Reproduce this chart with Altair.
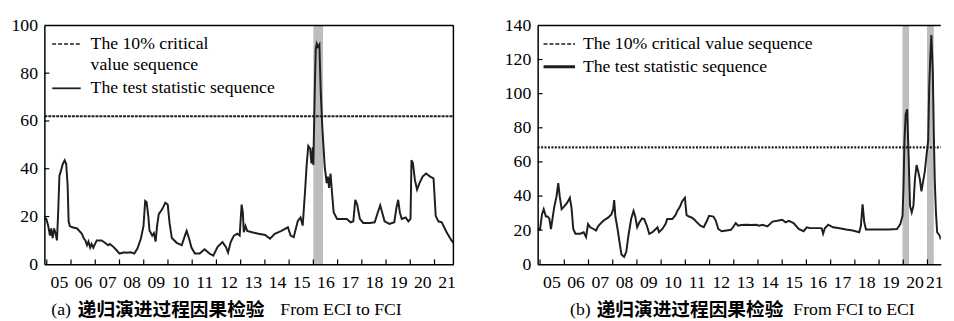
import altair as alt
import pandas as pd

# ---------------- data ----------------
YEARS = list(range(2005, 2022))

A_T = [2004.90, 2004.98, 2005.06, 2005.13, 2005.18, 2005.24, 2005.30, 2005.36, 2005.42, 2005.47,
       2005.52, 2005.58, 2005.66, 2005.74, 2005.80, 2005.86, 2005.90, 2005.95, 2006.05, 2006.25,
       2006.45, 2006.52, 2006.59, 2006.66, 2006.72, 2006.79, 2006.85, 2006.92, 2007.06, 2007.26,
       2007.40, 2007.53, 2007.60, 2007.73, 2007.87, 2008.00, 2008.21, 2008.30, 2008.47, 2008.61,
       2008.74, 2008.88, 2008.99, 2009.06, 2009.12, 2009.19, 2009.24, 2009.28, 2009.35, 2009.42,
       2009.49, 2009.55, 2009.62, 2009.76, 2009.89, 2009.99, 2010.07, 2010.16, 2010.36, 2010.57,
       2010.70, 2010.77, 2010.88, 2010.97, 2011.11, 2011.31, 2011.51, 2011.71, 2011.87, 2012.05,
       2012.25, 2012.39, 2012.48, 2012.59, 2012.72, 2012.86, 2012.96, 2013.04, 2013.09, 2013.13,
       2013.20, 2013.27, 2013.47, 2013.74, 2014.01, 2014.21, 2014.41, 2014.68, 2014.95, 2015.06,
       2015.19, 2015.36, 2015.47, 2015.56, 2015.66, 2015.72, 2015.79, 2015.87, 2015.92, 2015.98,
       2016.00, 2016.06, 2016.10, 2016.14, 2016.19, 2016.25, 2016.30, 2016.37, 2016.47, 2016.55,
       2016.60, 2016.65, 2016.71, 2016.77, 2016.84, 2016.98, 2017.18, 2017.38, 2017.54, 2017.65,
       2017.73, 2017.81, 2017.92, 2018.06, 2018.33, 2018.53, 2018.66, 2018.76, 2018.84, 2018.94,
       2019.14, 2019.34, 2019.43, 2019.50, 2019.57, 2019.65, 2019.81, 2019.92, 2020.01, 2020.05,
       2020.11, 2020.19, 2020.28, 2020.38, 2020.51, 2020.65, 2020.82, 2020.96, 2021.05, 2021.16,
       2021.30, 2021.50, 2021.70, 2021.78]
A_V = [19.5, 19.0, 16.0, 12.0, 15.0, 11.0, 15.0, 13.0, 10.0, 22.0,
       37.0, 39.0, 42.0, 43.5, 42.0, 33.0, 18.0, 16.0, 15.5, 15.0,
       12.8, 11.0, 10.0, 8.0, 9.5, 7.0, 8.5, 7.0, 10.0, 10.0,
       9.0, 8.0, 8.5, 7.5, 6.0, 4.5, 5.0, 4.8, 5.0, 4.5,
       6.6, 10.7, 16.0, 26.5, 26.0, 20.0, 14.0, 13.4, 12.0, 13.0,
       9.5, 16.0, 21.0, 23.0, 25.8, 25.0, 17.0, 11.0, 9.0, 8.0,
       12.0, 14.0, 10.5, 7.0, 4.5, 4.5, 6.3, 4.5, 3.6, 7.3,
       9.3, 7.3, 4.9, 9.3, 12.0, 12.8, 12.0, 25.0, 21.7, 13.4,
       16.0, 14.0, 13.4, 12.8, 12.3, 10.7, 12.8, 14.0, 15.5, 12.0,
       11.4, 18.2, 19.6, 16.2, 31.0, 41.0, 49.5, 48.4, 42.2, 49.0,
       41.6, 73.8, 90.2, 92.3, 91.0, 92.0, 73.8, 57.3, 40.9, 34.0,
       36.7, 32.0, 38.0, 30.0, 21.7, 19.0, 19.0, 19.0, 17.6, 18.0,
       27.0, 25.0, 19.0, 17.3, 17.3, 17.6, 21.7, 24.7, 21.7, 18.0,
       16.9, 17.6, 23.7, 27.0, 21.7, 19.0, 19.6, 18.0, 19.0, 43.6,
       42.3, 35.4, 31.3, 34.0, 36.7, 38.0, 36.7, 36.0, 20.3, 18.0,
       17.6, 13.4, 10.0, 9.0]

B_T = [2004.90, 2005.00, 2005.08, 2005.15, 2005.24, 2005.31, 2005.38, 2005.45, 2005.52, 2005.58,
       2005.68, 2005.75, 2005.81, 2005.89, 2005.99, 2006.12, 2006.23, 2006.30, 2006.37, 2006.46,
       2006.66, 2006.80, 2006.90, 2006.98, 2007.07, 2007.21, 2007.31, 2007.41, 2007.61, 2007.82,
       2007.95, 2008.02, 2008.06, 2008.11, 2008.20, 2008.29, 2008.36, 2008.47, 2008.56, 2008.65,
       2008.76, 2008.86, 2008.93, 2009.01, 2009.10, 2009.21, 2009.30, 2009.41, 2009.51, 2009.64,
       2009.78, 2009.85, 2009.91, 2010.05, 2010.18, 2010.25, 2010.46, 2010.59, 2010.67, 2010.79,
       2010.87, 2010.98, 2011.05, 2011.15, 2011.25, 2011.35, 2011.48, 2011.62, 2011.76, 2011.89,
       2011.98, 2012.16, 2012.26, 2012.36, 2012.50, 2012.70, 2012.88, 2012.97, 2013.08, 2013.18,
       2013.31, 2013.51, 2013.72, 2013.92, 2014.05, 2014.19, 2014.39, 2014.60, 2014.80, 2015.00,
       2015.14, 2015.27, 2015.47, 2015.68, 2015.88, 2016.02, 2016.15, 2016.56, 2016.63, 2016.69,
       2016.76, 2016.90, 2017.10, 2017.37, 2017.64, 2017.91, 2018.18, 2018.25, 2018.32, 2018.39,
       2018.46, 2018.66, 2019.00, 2019.40, 2019.74, 2019.88, 2019.97, 2020.01, 2020.05, 2020.10,
       2020.16, 2020.21, 2020.28, 2020.35, 2020.42, 2020.48, 2020.55, 2020.62, 2020.69, 2020.75,
       2020.82, 2020.89, 2020.96, 2021.03, 2021.07, 2021.12, 2021.16, 2021.22, 2021.26, 2021.30,
       2021.35, 2021.40, 2021.50, 2021.55]
B_V = [20.7, 20.7, 29.4, 32.3, 28.0, 28.0, 26.9, 20.7, 27.5, 33.2,
       39.9, 47.6, 39.9, 32.3, 33.8, 36.1, 39.0, 33.0, 20.7, 17.9,
       17.9, 18.8, 16.0, 23.6, 21.7, 20.7, 19.8, 22.6, 25.5, 27.5,
       29.4, 32.3, 37.6, 28.0, 20.7, 12.1, 5.8, 4.4, 7.3, 16.9,
       26.5, 31.3, 28.0, 21.7, 24.6, 26.9, 26.5, 22.6, 17.9, 18.8,
       20.7, 21.7, 18.8, 20.7, 23.6, 26.5, 26.5, 28.8, 31.3, 34.2,
       37.0, 39.0, 28.8, 28.0, 27.5, 26.5, 24.6, 22.6, 21.7, 25.5,
       28.4, 28.0, 25.5, 20.7, 19.4, 19.8, 20.2, 21.7, 24.2, 22.6,
       23.0, 23.2, 23.0, 23.2, 22.6, 23.2, 22.2, 25.0, 25.5, 26.1,
       24.6, 25.5, 24.2, 20.7, 19.4, 21.7, 21.2, 21.2, 21.1, 17.9,
       21.1, 23.2, 21.7, 21.1, 20.4, 19.8, 18.8, 22.6, 35.1, 24.6,
       20.4, 20.4, 20.4, 20.4, 20.7, 23.6, 28.4, 45.7, 72.6, 88.0,
       90.8, 68.7, 34.2, 30.4, 34.2, 49.5, 58.2, 54.3, 49.5, 42.8,
       48.6, 54.3, 63.9, 72.6, 103.3, 122.5, 134.4, 112.9, 78.3, 49.5,
       30.4, 18.8, 16.9, 14.5]

A_CRIT = 62.0
B_CRIT = 68.5
A_BAND_START = [2016.00]
A_BAND_END = [2016.40]
B_BAND_START = [2019.97, 2020.98]
B_BAND_END = [2020.24, 2021.26]
A_YTICKS = [0, 20, 40, 60, 80, 100]
B_YTICKS = [0, 20, 40, 60, 80, 100, 120, 140]
A_XDOM = [2004.90, 2021.78]
B_XDOM = [2004.90, 2021.55]

LEG_CRIT = "The 10% critical value sequence"
LEG_CRIT_A = ["The 10% critical", "value sequence"]
LEG_STAT = "The test statistic sequence"
CAP_A = ["(a)", "递归演进过程因果检验", "From ECI to FCI"]
CAP_B = ["(b)", "递归演进过程因果检验", "From FCI to ECI"]

SERIF = "Liberation Serif, Times New Roman, serif"
CJK = "Noto Sans CJK SC"
LINE_COLOR = "#1e1e1e"
BAND_COLOR = "#bdbdbd"

ONE = pd.DataFrame({"k": [0]})


def txt(s, x, y, align="left", font=SERIF, weight="normal", size=18):
    return alt.Chart(ONE).mark_text(
        align=align, baseline="middle", font=font, fontSize=size,
        fontWeight=weight, color="black"
    ).encode(x=alt.value(x), y=alt.value(y), text=alt.value(s))


def seg(x1, x2, y, dash=None, width=1.5):
    kw = dict(color=LINE_COLOR, strokeWidth=width)
    if dash:
        kw["strokeDash"] = dash
    return alt.Chart(ONE).mark_rule(**kw).encode(
        x=alt.value(x1), x2=alt.value(x2), y=alt.value(y))


def panel(ts, vs, crit, crit_dash, crit_width, bs, be, xdom, yticks,
          W, H, extra, first_off, last_off, right_border):
    xs = alt.Scale(domain=xdom, nice=False, zero=False)
    ys = alt.Scale(domain=[yticks[0], yticks[-1]], nice=False, zero=False)
    xaxis = alt.Axis(
        values=YEARS, labelExpr="substring(toString(datum.value), 2)",
        labelOffset={"condition": {"test": "datum.value == 2021", "value": last_off},
                     "value": first_off},
        labelFont=SERIF, labelFontSize=18, labelColor="black",
        labelFlush=False, labelOverlap=False, labelBound=False, ticks=False,
        grid=False, title=None, labelPadding=10, domainColor="black",
        domainWidth=1.5, zindex=1)
    yaxis = alt.Axis(values=yticks, ticks=False, grid=False, title=None,
                     labelFont=SERIF, labelFontSize=18, labelColor="black",
                     labelPadding=7, minExtent=34, maxExtent=34,
                     domainColor="black", domainWidth=1.5, zindex=1)
    X = alt.X("t:Q", scale=xs, axis=xaxis)
    Y = alt.Y("v:Q", scale=ys, axis=yaxis)

    bands = alt.Chart(pd.DataFrame({"t": bs, "t2": be})).mark_rect(
        color=BAND_COLOR).encode(x=X, x2="t2:Q", y=alt.value(0), y2=alt.value(H))
    critl = alt.Chart(pd.DataFrame({"t": xdom, "v": [crit, crit]})).mark_line(
        color=LINE_COLOR, strokeWidth=crit_width, strokeDash=crit_dash).encode(x=X, y=Y)
    line = alt.Chart(pd.DataFrame({"t": ts, "v": vs})).mark_line(
        color=LINE_COLOR, strokeWidth=2, clip=True).encode(x=X, y=Y)
    xt = alt.Chart(pd.DataFrame({"t": YEARS})).mark_rule(
        color="black", strokeWidth=1.2).encode(x=X, y=alt.value(H), y2=alt.value(H - 5))
    yt = alt.Chart(pd.DataFrame({"v": yticks[1:-1]})).mark_rule(
        color="black", strokeWidth=1.2).encode(y=Y, x=alt.value(0), x2=alt.value(5))
    top = alt.Chart(ONE).mark_rule(color="black", strokeWidth=1.5).encode(
        x=alt.value(0), x2=alt.value(W), y=alt.value(0))
    layers = [bands, critl, line, xt, yt, top]
    if right_border:
        layers.append(alt.Chart(ONE).mark_rule(color="black", strokeWidth=1.5).encode(
            x=alt.value(W), y=alt.value(0), y2=alt.value(H)))
    layers += extra
    return alt.layer(*layers).properties(width=W, height=H)


WA, WB, H = 416, 410, 243
CAP_Y = H + 47

extra_a = [
    seg(8, 37, 19, dash=[4, 2], width=1.5),
    txt(LEG_CRIT_A[0], 47, 19),
    txt(LEG_CRIT_A[1], 47, 40),
    seg(8, 37, 64, width=1.8),
    txt(LEG_STAT, 47, 64),
    txt(CAP_A[0], 7, CAP_Y),
    txt(CAP_A[1], 34, CAP_Y, font=CJK, weight="bold", size=19),
    txt(CAP_A[2], 240, CAP_Y),
]
extra_b = [
    seg(6, 38, 19, dash=[4, 2], width=1.5),
    txt(LEG_CRIT, 46, 19),
    seg(6, 38, 42, width=3),
    txt(LEG_STAT, 46, 42),
    txt(CAP_B[0], 33, CAP_Y),
    txt(CAP_B[1], 60, CAP_Y, font=CJK, weight="bold", size=19),
    txt(CAP_B[2], 260, CAP_Y),
]

pa = panel(A_T, A_V, A_CRIT, [3, 1], 2, A_BAND_START, A_BAND_END, A_XDOM,
           A_YTICKS, WA, H, extra_a, 12.3, 12.3, True)
pb = panel(B_T, B_V, B_CRIT, [2, 1.5], 2.2, B_BAND_START, B_BAND_END, B_XDOM,
           B_YTICKS, WB, H, extra_b, 11.5, 7, False)

chart = alt.hconcat(pa, pb, spacing=47.7).configure_view(stroke=None).properties(
    padding={"left": 3, "top": 6, "right": 0, "bottom": 0})

chart.save("out.html", embed_options={"renderer": "svg", "actions": False})
